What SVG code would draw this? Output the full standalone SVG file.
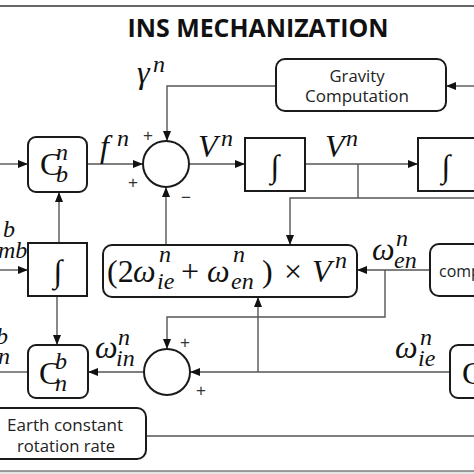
<svg xmlns="http://www.w3.org/2000/svg" width="474" height="474" viewBox="0 0 474 474">
<defs>
<marker id="ah" markerWidth="10" markerHeight="8" refX="10" refY="4" orient="auto" markerUnits="userSpaceOnUse">
<path d="M0,0 L10,4 L0,8 Z" fill="#111"/>
</marker>
<style>
.box{fill:#fff;stroke:#1a1a1a;stroke-width:2}
.ln{fill:none;stroke:#555;stroke-width:1.4}
.m{font-family:"Liberation Serif","DejaVu Serif",serif;font-style:italic;font-size:32px;fill:#111}
.s{font-size:24px;font-style:italic}
.up{font-style:normal}
.u{font-family:"Liberation Serif","DejaVu Serif",serif;font-size:32px;fill:#111}
.t{font-family:"Open Sans","Noto Sans","Liberation Sans",sans-serif;font-size:16px;fill:#222}
.p{font-family:"Liberation Sans",sans-serif;font-size:17px;fill:#333;text-anchor:middle}
</style>
</defs>
<rect width="474" height="474" fill="#fff"/>
<line x1="0" y1="6" x2="474" y2="6" stroke="#333" stroke-width="1.6"/>
<rect x="0" y="471" width="474" height="3" fill="#e4e4e4"/>
<line x1="0" y1="471" x2="474" y2="471" stroke="#444" stroke-width="1.2"/>
<text x="258" y="37" text-anchor="middle" font-family="Open Sans, Noto Sans, Liberation Sans, sans-serif" font-weight="bold" font-size="25" textLength="261" lengthAdjust="spacingAndGlyphs" fill="#111">INS MECHANIZATION</text>

<g id="connectors">
<line class="ln" x1="0" y1="164" x2="28" y2="164" marker-end="url(#ah)"/>
<line class="ln" x1="87" y1="164" x2="143" y2="164" marker-end="url(#ah)"/>
<path class="ln" d="M276,86 H167 V141" marker-end="url(#ah)"/>
<line class="ln" x1="474" y1="86" x2="446" y2="86" marker-end="url(#ah)"/>
<line class="ln" x1="189" y1="164" x2="245" y2="164" marker-end="url(#ah)"/>
<line class="ln" x1="305" y1="164" x2="418" y2="164" marker-end="url(#ah)"/>
<path class="ln" d="M358,164 V198"/>
<path class="ln" d="M474,198 H290 V245" marker-end="url(#ah)"/>
<path class="ln" d="M166,245 V187" marker-end="url(#ah)"/>
<path class="ln" d="M59,243 V192" marker-end="url(#ah)"/>
<line class="ln" x1="0" y1="270" x2="28" y2="270" marker-end="url(#ah)"/>
<path class="ln" d="M57,296 V345" marker-end="url(#ah)"/>
<line class="ln" x1="28" y1="372" x2="0" y2="372"/>
<line class="ln" x1="144" y1="372" x2="88" y2="372" marker-end="url(#ah)"/>
<line class="ln" x1="430" y1="270" x2="357" y2="270" marker-end="url(#ah)"/>
<path class="ln" d="M385,270 V317 H167 V349" marker-end="url(#ah)"/>
<line class="ln" x1="450" y1="372" x2="190" y2="372" marker-end="url(#ah)"/>
<path class="ln" d="M258,372 V297" marker-end="url(#ah)"/>
<line class="ln" x1="146" y1="436" x2="474" y2="436"/>
</g>

<g id="gravity">
<rect class="box" x="276" y="59" width="170" height="52" rx="9"/>
<text class="t" x="357" y="82" text-anchor="middle" textLength="55" lengthAdjust="spacingAndGlyphs">Gravity</text>
<text class="t" x="357" y="102" text-anchor="middle" textLength="104" lengthAdjust="spacingAndGlyphs">Computation</text>
</g>

<g id="gamma-label">
<text class="m" x="137" y="83">γ<tspan class="s" x="153" y="72">n</tspan></text>
</g>

<g id="Cbn">
<rect class="box" x="28" y="137" width="59" height="55" rx="8"/>
<text class="u" x="40" y="175">C<tspan class="s" x="56" y="160">n</tspan><tspan class="s" x="56" y="182">b</tspan></text>
</g>

<g id="f-label">
<text class="m" x="100" y="157">f<tspan class="s" x="117" y="146">n</tspan></text>
</g>

<g id="sum1">
<circle cx="166" cy="164" r="23" fill="#fff" stroke="#1a1a1a" stroke-width="2"/>
<text class="p" x="148" y="141">+</text>
<text class="p" x="133" y="188">+</text>
<text class="p" x="186" y="203">−</text>
</g>

<g id="V-label1">
<text class="m" x="198" y="157">V<tspan class="s" x="221" y="146">n</tspan></text>
</g>

<g id="int1">
<rect class="box" x="245" y="138" width="60" height="53"/>
<text class="u" x="275" y="177" text-anchor="middle" font-size="36">∫</text>
</g>

<g id="V-label2">
<text class="m" x="325" y="157">V<tspan class="s" x="346" y="146">n</tspan></text>
</g>

<g id="int2">
<rect class="box" x="418" y="138" width="60" height="53"/>
<text class="u" x="446" y="177" text-anchor="middle" font-size="36">∫</text>
</g>

<g id="wnb-label">
<text class="m s" x="3" y="237">b<tspan x="-2" y="258">mb</tspan></text>
</g>

<g id="intAtt">
<rect class="box" x="28" y="243" width="59" height="53"/>
<text class="u" x="58" y="282" text-anchor="middle" font-size="36">∫</text>
</g>

<g id="cross">
<rect class="box" x="103" y="245" width="254" height="52" rx="9"/>
<text class="u" x="107" y="282">(2<tspan class="m" x="133" y="282">ω</tspan><tspan class="s" x="159" y="262">n</tspan><tspan class="s" x="157" y="289">ie</tspan><tspan x="181" y="282">+</tspan><tspan class="m" x="207" y="282">ω</tspan><tspan class="s" x="233" y="262">n</tspan><tspan class="s" x="231" y="289">en</tspan><tspan x="262" y="282">)</tspan><tspan x="284" y="282">×</tspan><tspan class="m" x="312" y="282">V</tspan><tspan class="s" x="335" y="268">n</tspan></text>
</g>

<g id="wen-label">
<text class="m" x="372" y="260">ω<tspan class="s" x="396" y="246">n</tspan><tspan class="s" x="394" y="268">en</tspan></text>
</g>

<g id="compute">
<rect class="box" x="430" y="244" width="60" height="52" rx="9"/>
<text class="t" x="439" y="277" font-size="13">comp</text>
</g>

<g id="Cnb-out-label">
<text class="m s" x="-4" y="344">b<tspan x="-2" y="364">n</tspan></text>
</g>

<g id="Cnb">
<rect class="box" x="28" y="345" width="60" height="53" rx="8"/>
<text class="u" x="39" y="384">C<tspan class="s" x="55" y="369">b</tspan><tspan class="s" x="55" y="391">n</tspan></text>
</g>

<g id="win-label">
<text class="m" x="95" y="358">ω<tspan class="s" x="118" y="345">n</tspan><tspan class="s" x="116" y="366">in</tspan></text>
</g>

<g id="sum2">
<circle cx="167" cy="372" r="23" fill="#fff" stroke="#1a1a1a" stroke-width="2"/>
<text class="p" x="185" y="348">+</text>
<text class="p" x="201" y="396">+</text>
</g>

<g id="wie-label">
<text class="m" x="395" y="358">ω<tspan class="s" x="420" y="345">n</tspan><tspan class="s" x="418" y="366">ie</tspan></text>
</g>

<g id="Cright">
<rect class="box" x="450" y="345" width="60" height="53" rx="8"/>
<text class="u" x="462" y="384">C</text>
</g>

<g id="earth">
<rect class="box" x="-20" y="408" width="166" height="51" rx="9"/>
<text class="t" x="65" y="431" text-anchor="middle" font-size="17" textLength="116" lengthAdjust="spacingAndGlyphs">Earth constant</text>
<text class="t" x="66" y="452" text-anchor="middle" font-size="17" textLength="98" lengthAdjust="spacingAndGlyphs">rotation rate</text>
</g>
</svg>
